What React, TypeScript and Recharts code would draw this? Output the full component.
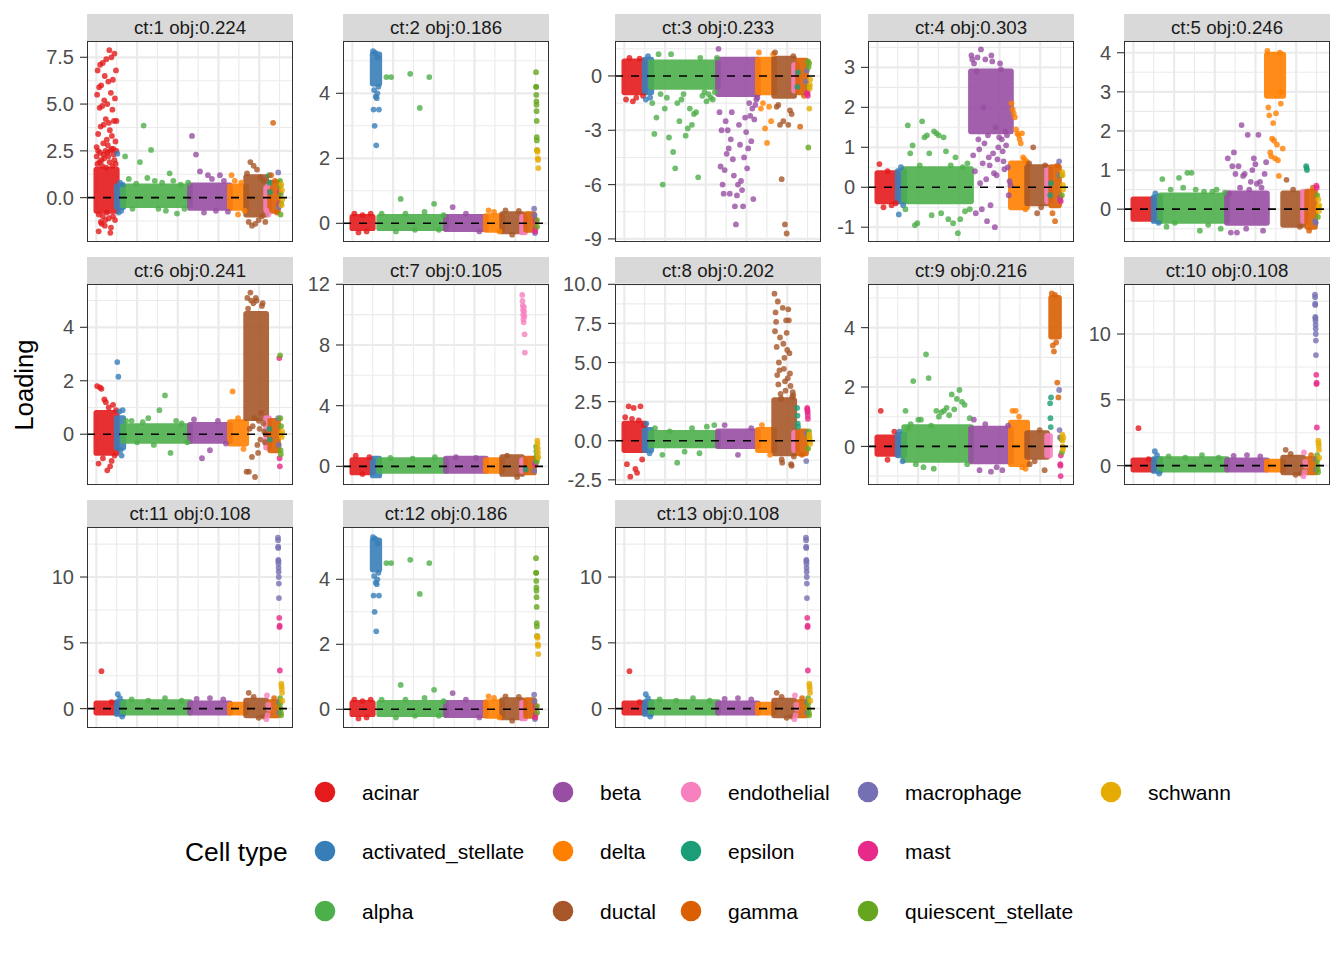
/** Faceted jitter plot of cell-type loadings for 13 components (ct:1..ct:13) */

import {
	CartesianGrid,
	ReferenceArea,
	ReferenceLine,
	Scatter,
	ScatterChart,
	XAxis,
	YAxis,
} from "recharts";

const FONT = '"Liberation Sans", Arial, Helvetica, sans-serif';

// cell types, in the order the cells are laid out along x
const cellTypes = [
	"acinar",
	"activated_stellate",
	"alpha",
	"beta",
	"delta",
	"ductal",
	"endothelial",
	"epsilon",
	"gamma",
	"macrophage",
	"mast",
	"quiescent_stellate",
	"schwann",
];
const cellColors = [
	"#E41A1C",
	"#377EB8",
	"#4DAF4A",
	"#984EA3",
	"#FF7F00",
	"#A65628",
	"#F781BF",
	"#1B9E77",
	"#D95F02",
	"#7570B3",
	"#E7298A",
	"#66A61E",
	"#E6AB02",
];
// approximate number of cells per type (sets the width of each block on x)
const cellCounts = [250, 80, 820, 490, 200, 245, 35, 15, 95, 15, 10, 15, 15];

// facet titles
const panelIds = [1, 2, 3, 4, 5, 6, 7, 8, 9, 10, 11, 12, 13];
const panelObj = [
	0.224, 0.186, 0.233, 0.303, 0.246, 0.241, 0.105, 0.202, 0.216, 0.108, 0.108,
	0.186, 0.108,
];

const ct1Domain = [-2.37, 8.37];
const ct2Domain = [-0.575, 5.61];
const ct3Domain = [-9.17, 1.93];
const ct4Domain = [-1.37, 3.66];
const ct5Domain = [-0.84, 4.3];
const ct6Domain = [-1.9, 5.62];
const ct7Domain = [-1.23, 12.02];
const ct8Domain = [-2.83, 10.02];
const ct9Domain = [-1.3, 5.47];
const ct10Domain = [-1.47, 13.8];

const ct1Ticks = [0, 2.5, 5, 7.5];
const ct2Ticks = [0, 2, 4];
const ct3Ticks = [-9, -6, -3, 0];
const ct4Ticks = [-1, 0, 1, 2, 3];
const ct5Ticks = [0, 1, 2, 3, 4];
const ct6Ticks = [0, 2, 4];
const ct7Ticks = [0, 4, 8, 12];
const ct8Ticks = [-2.5, 0, 2.5, 5, 7.5, 10];
const ct9Ticks = [0, 2, 4];
const ct10Ticks = [0, 5, 10];

const tickDigits = [1, 0, 0, 0, 0, 0, 0, 1, 0, 0, 0, 0, 0];

// dense cores: [cell type, low, high]
type Band = [number, number, number];
// scattered cells: [cell type, loadings read left to right]
type PointRun = [number, number[]];

const ct1Bands: Band[] = [
	[0, -0.7, 1.5],
	[1, -0.5, 0.6],
	[2, -0.4, 0.6],
	[3, -0.55, 0.65],
	[4, -0.55, 0.6],
	[5, -0.9, 1.1],
	[6, -0.6, 0.5],
	[8, -0.7, 0.8],
];
const ct1Points: PointRun[] = [
	[0, [2.7, 5.5, 6.8, 3.4, -1.8, 5.9, 4.8, 7.1, 3.8, 6.0, -1.4, 4.9, 7.2, 2.9, 3.9, 5.2, 6.5, -1.2, 4.2, 7.4, 3.1, 5.0, 2.8, 6.2, 4.0, 7.88, 3.6, -1.88, 5.6, 7.5, 3.3, 4.7, 6.3, 2.6, 4.1, 7.7, 5.3, 3.0, 6.8, 4.1]],
	[0, [2.2, 1.8, 2.5, -0.9, 1.9, 2.4, -1.3, 2.0, 1.7, -1.0, 2.3, 2.1, -1.5, 2.5, 1.6, -0.8, 2.4, 2.2, -1.1, 1.9, 2.5, -1.6, 2.6, 1.7, -1.0, 2.3, 2.0, -1.2, 1.8, 2.5]],
	[1, [2.35, -0.8, 0.8, -0.7, 0.7]],
	[2, [2.2, 1.0, -0.6, 0.75, 1.9, 3.85, 1.05, 2.55, 0.9, -0.6, 0.8, -0.7, 1.3, 0.9, -0.85, 0.7, -0.6, 0.8]],
	[3, [3.3, 2.3, 1.4, -0.8, 1.2, 1.0, -0.7, 1.2, 0.9, -0.75]],
	[4, [1.2, 0.9, -0.9, 0.8, -0.7]],
	[5, [1.3, -1.3, 1.9, -1.5, 1.7, -1.4, 1.5, -1.2, 1.1, -1.0, 0.9, -1.3]],
	[6, [-0.7, 0.6, -0.9]],
	[7, [1.2, 0.8, 0.3]],
	[8, [1.2, 4.0, 0.9, -0.8]],
	[9, [1.35, -0.5]],
	[10, [-0.3, 0.3]],
	[11, [0.9, 0.6, -0.9, 0.2, -0.3]],
	[12, [0.7, -0.4, 0.4, -0.1]],
];

const ct2Bands: Band[] = [
	[0, -0.15, 0.2],
	[1, 4.3, 5.2],
	[2, -0.15, 0.2],
	[3, -0.18, 0.2],
	[4, -0.2, 0.22],
	[5, -0.25, 0.28],
	[6, -0.28, 0.2],
	[8, -0.2, 0.28],
];
const ct2Points: PointRun[] = [
	[0, [0.3, -0.28, 0.25, -0.25, 0.3]],
	[1, [5.3, 3.5, 4.1, 3.0, 5.25, 3.9, 2.4, 3.85, 4.0, 5.1, 4.2, 3.5]],
	[2, [0.3, 4.5, 4.5, -0.25, 0.75, 0.3, 4.6, -0.2, 3.55, 0.35, 4.5, 0.6, -0.2, 0.25]],
	[3, [0.5, 0.3, -0.25]],
	[4, [0.4, 0.35, -0.25]],
	[5, [0.4, -0.35, 0.38]],
	[9, [0.45, 0.25, -0.3]],
	[10, [-0.25, 0.1, -0.15, 0.05]],
	[11, [4.65, 4.2, 4.2, 3.95, 3.75, 3.65, 3.45, 3.15, 2.65, 2.55, 2.25, 0.1, -0.1]],
	[12, [2.25, 2.2, 2.0, 1.95, 1.7]],
];

const ct3Bands: Band[] = [
	[0, -0.9, 0.8],
	[1, -0.9, 0.9],
	[2, -0.6, 0.75],
	[3, -1.0, 0.9],
	[4, -0.9, 0.9],
	[5, -1.1, 0.95],
	[6, -0.8, 0.6],
	[8, -0.9, 0.85],
];
const ct3Points: PointRun[] = [
	[0, [-1.3, 1.0, -1.4, -1.2, 0.95, -1.1]],
	[1, [-1.3, 1.1, -1.2]],
	[2, [-1.5, -3.2, -2.3, 1.2, -1.0, -6.0, -1.8, -1.2, -3.4, 1.2, -4.2, -5.1, -1.5, -2.5, -1.3, -1.0, -3.3, -2.9, -1.8, -2.7, -2.1, -2.0, -5.6, 1.0, -1.1, -0.9, -1.4, -1.0, -1.2, -1.3, -0.9, 1.0]],
	[3, [1.5, -2.0, -5.0, -3.0, -6.0, -6.5, -5.2, -2.5, -4.3, -3.0, -4.0, -6.5, -3.5, -2.0, -4.6, -5.5, -7.2, -8.2, -6.6, -6.0, -2.7, -3.8, -5.8, -6.3, -7.2, -4.5, -2.3, -3.1, -5.1, -4.0, -1.5, -2.2, -3.6, -1.8, -6.8, -2.4, -1.6, -1.3, -1.2]],
	[4, [1.3, -1.8, -1.5, -2.9, -3.7, -1.7, -2.5, 1.2]],
	[5, [1.3, -1.7, -1.6, -2.7, -5.7, -2.5, -8.2, -8.7, -2.7, -1.9, -2.1, 1.1]],
	[7, [-0.6, 0.2]],
	[8, [-2.8, -1.1]],
	[9, [-0.3, 0.3]],
	[10, [-1.0, -0.9, -1.1]],
	[11, [0.8, -3.95, 0.5, -0.6, 0.7]],
	[12, [-1.8, -0.7, -0.5, -0.2]],
];

const ct4Bands: Band[] = [
	[0, -0.35, 0.35],
	[1, -0.35, 0.4],
	[2, -0.35, 0.45],
	[3, 1.4, 2.9],
	[4, -0.5, 0.6],
	[5, -0.4, 0.5],
	[6, -0.35, 0.45],
	[8, -0.45, 0.5],
];
const ct4Points: PointRun[] = [
	[0, [0.58, -0.5, 0.4, -0.45, -0.4]],
	[1, [-0.68, 0.5, -0.45]],
	[2, [-0.55, 1.55, 0.85, 1.05, -0.95, -0.9, 0.55, 1.65, 1.25, 1.3, 0.85, -0.7, 1.4, 1.35, 1.3, -0.65, 1.25, 0.9, -0.8, 0.55, -0.9, 0.75, -1.15, -0.8, 0.5, -0.6, 0.6, -0.55]],
	[3, [3.3, 3.2, 0.8, 3.1, 0.4, -0.65, 2.9, 3.25, 1.2, 0.95, 0.1, 3.45, -0.55, 0.6, 2.0, 1.1, 3.2, 0.2, -0.85, 1.3, 0.75, 0.55, -0.45, 3.3, 3.15, 0.85, 0.35, -1.0, 1.5, 0.3, 0.7, 1.0, 1.25, 3.1, 2.95, 1.2, 0.9, 0.65, 0.45, 1.4, 1.05, 1.3, 0.5, -0.2, 0.15, 0.05]],
	[4, [2.1, 1.95, 1.85, 1.75, 1.45, 1.35, 1.3, 1.2, 1.1, 1.35, 0.75, 0.7, -0.55, 0.65]],
	[5, [0.6, 1.0, -0.65, -0.5, 0.55]],
	[7, [-0.2, 0.1]],
	[8, [-0.65, -0.85, 0.55]],
	[9, [0.65, 0.3, -0.3]],
	[10, [-0.25, -0.35]],
	[11, [0.3, -0.2]],
	[12, [0.38, 0.3, 0.05, -0.05]],
];

const ct5Bands: Band[] = [
	[0, -0.25, 0.25],
	[1, -0.3, 0.3],
	[2, -0.3, 0.35],
	[3, -0.35, 0.4],
	[4, 2.9, 3.95],
	[5, -0.4, 0.4],
	[6, -0.3, 0.45],
	[8, -0.45, 0.45],
];
const ct5Points: PointRun[] = [
	[1, [0.4, -0.35]],
	[2, [0.77, -0.45, 0.5, -0.35, 0.8, 0.55, 0.93, 0.93, 0.5, -0.55, 0.45, -0.4, 0.45, 0.5, -0.5, 0.42]],
	[3, [1.3, 0.4, -0.6, 1.1, 1.45, 0.9, -0.6, 1.1, 0.55, 2.15, 0.85, 0.9, -0.5, 1.9, 0.5, 0.7, 1.0, 1.3, 1.15, 0.65, 1.9, 0.7, 0.55, -0.55, 0.9, 1.2]],
	[4, [4.05, 2.6, 2.4, 1.45, 1.35, 1.8, 2.2, 1.75, 1.3, 2.45, 1.65, 1.25, 0.85, 4.0, 2.7, 3.0, 1.55]],
	[5, [0.75, 0.5, -0.45]],
	[7, [1.1, 1.05, 1.0]],
	[8, [-0.55, 0.55]],
	[9, [-0.3, -0.35]],
	[10, [0.6, 0.55]],
	[11, [0.35, -0.2]],
	[12, [0.25, 0.05, -0.05, 0.1]],
];

const ct6Bands: Band[] = [
	[0, -0.7, 0.8],
	[1, -0.5, 0.6],
	[2, -0.25, 0.3],
	[3, -0.25, 0.35],
	[4, -0.35, 0.45],
	[5, 0.6, 4.5],
	[6, -0.5, 0.6],
	[8, -0.6, 0.5],
];
const ct6Points: PointRun[] = [
	[0, [1.8, -1.1, 1.75, 1.7, -0.9, 1.3, 1.2, -1.35, 1.0, -1.2, -1.0, 1.1, -0.8, 0.9]],
	[1, [2.7, 2.15, 0.85, -0.6, -0.8, 0.9]],
	[2, [0.5, 0.5, -0.3, 0.45, 0.6, -0.4, 0.9, 1.45, -0.7, 0.5, 0.4, -0.3]],
	[3, [0.55, -0.9, -0.6, 0.5, -0.35]],
	[4, [1.6, 0.6, -0.55]],
	[5, [-1.4, 5.1, 4.7, -1.4, 0.2, 5.3, 5.0, -0.85, 0.3, 4.9, 0.6, -1.6, 5.1, 5.0, -0.4, -0.7, 0.5, 0.2, -0.2, 0.8, 4.8, 4.9, 0.4, 0.1, -0.3, 0.0]],
	[7, [0.2, -0.2]],
	[9, [0.6, -0.4]],
	[10, [2.85, -0.9, -1.2]],
	[11, [2.95, 0.6, -0.6, -0.75, 0.3]],
	[12, [0.0, -0.1, 0.1]],
];

const ct7Bands: Band[] = [
	[0, -0.4, 0.4],
	[1, -0.6, 0.5],
	[2, -0.3, 0.4],
	[3, -0.3, 0.5],
	[4, -0.3, 0.4],
	[5, -0.5, 0.6],
	[6, -0.3, 0.4],
	[8, -0.4, 0.5],
];
const ct7Points: PointRun[] = [
	[0, [0.7, -0.5, 0.6]],
	[2, [0.55, 0.5, 0.6]],
	[3, [0.6, 0.55]],
	[5, [0.7, -0.7]],
	[6, [11.3, 10.9, 10.6, 10.3, 10.0, 9.7, 9.5, 10.5, 10.2, 9.9, 8.7, 7.5]],
	[7, [-0.2]],
	[9, [-0.3, 0.2]],
	[10, [0.1]],
	[11, [1.3, 1.0, 0.7, 0.3, 0.5]],
	[12, [1.7, 1.5, 1.2, 0.9, 0.6]],
];

const ct8Bands: Band[] = [
	[0, -0.6, 1.1],
	[1, -0.6, 0.7],
	[2, -0.3, 0.5],
	[3, -0.35, 0.6],
	[4, -0.6, 0.7],
	[5, -0.8, 2.6],
	[6, -0.6, 0.5],
	[8, -0.8, 0.6],
];
const ct8Points: PointRun[] = [
	[0, [1.5, -1.5, 2.2, -2.3, 1.4, 2.1, -1.8, -2.05, 1.3, 2.2, -1.2, 1.0]],
	[1, [1.1, -0.8]],
	[2, [0.8, -0.9, 0.6, -1.4, -0.7, 0.8, -0.8, 0.9, 1.0]],
	[3, [1.0, -0.9, 0.8]],
	[4, [1.0, -0.9]],
	[5, [9.4, 7.0, 8.2, 7.6, 6.0, 4.2, 8.9, 3.6, 5.0, 4.5, 6.6, 3.0, 2.7, -1.2, -1.4, 8.5, 6.2, 4.6, 5.3, 3.8, 3.2, 7.7, 6.9, 5.8, 4.0, 8.4, 7.7, 5.6, 4.3, 3.5, -1.5, -1.6, 2.8, 3.1, 2.9, -1.0]],
	[7, [2.1, 1.6, 1.1, 0.9]],
	[8, [-0.9]],
	[9, [-1.3, 0.5]],
	[10, [2.1, 2.0, 1.9, 1.8, 1.6, 1.4]],
	[11, [-0.5, 0.3, 0.6]],
	[12, [0.4, 0.2, 0.0, -0.2]],
];

const ct9Bands: Band[] = [
	[0, -0.25, 0.3],
	[1, -0.3, 0.4],
	[2, -0.45, 0.65],
	[3, -0.5, 0.6],
	[4, -0.6, 0.8],
	[5, -0.35, 0.45],
	[6, -0.3, 0.35],
	[8, 3.7, 5.0],
];
const ct9Points: PointRun[] = [
	[0, [1.2, -0.45, 0.5]],
	[1, [0.5, -0.5]],
	[2, [1.2, 0.6, 0.75, 2.2, -0.6, 0.9, 0.9, -0.7, 3.1, 2.3, 0.7, -0.75, 1.2, 1.0, 1.15, 1.2, 1.3, 1.05, 1.75, 1.25, 1.6, 1.9, 1.5, 1.4, -0.6, 0.95]],
	[3, [0.9, -0.8, 0.75, -0.85, -0.7, -0.8, 0.7]],
	[4, [1.2, 1.2, 1.0, -0.7, -0.75]],
	[5, [-0.6, -0.5, 0.55, -0.8]],
	[7, [1.45, 0.95, 0.65, 1.65]],
	[8, [5.15, 3.4, 3.2, 5.1, 3.5, 2.15, 1.65]],
	[9, [1.9, 0.55, 0.3]],
	[10, [-0.6, -0.65, -1.0, -0.3]],
	[11, [0.25, -0.2]],
	[12, [0.4, 0.2, 0.0, -0.1, 0.3]],
];

const ct10Bands: Band[] = [
	[0, -0.3, 0.4],
	[1, -0.4, 0.5],
	[2, -0.3, 0.5],
	[3, -0.3, 0.4],
	[4, -0.3, 0.3],
	[5, -0.5, 0.6],
	[8, -0.5, 0.5],
];
const ct10Points: PointRun[] = [
	[0, [2.85, 0.5]],
	[1, [1.1, 0.8, -0.6]],
	[2, [0.7, 0.6, 0.8, 0.6]],
	[3, [0.75, 0.8, 0.7]],
	[5, [1.2, 0.9, -0.7, -0.6]],
	[6, [-0.8, 1.0, -0.5, 0.3, 0.0]],
	[8, [0.8]],
	[9, [13.0, 12.8, 12.3, 12.2, 11.3, 11.2, 11.0, 10.7, 10.4, 10.0, 9.5, 8.4, 0.5, -0.3]],
	[10, [6.9, 6.2, 6.3, 2.9]],
	[11, [0.8, 0.4, 0.0, -0.3, -0.5]],
	[12, [1.9, 1.7, 1.5, 1.2, 0.6]],
];

// ct:11 and ct:13 repeat ct:10, ct:12 repeats ct:2
const panelDomains = [ct1Domain, ct2Domain, ct3Domain, ct4Domain, ct5Domain, ct6Domain, ct7Domain, ct8Domain, ct9Domain, ct10Domain, ct10Domain, ct2Domain, ct10Domain];
const panelTicks = [ct1Ticks, ct2Ticks, ct3Ticks, ct4Ticks, ct5Ticks, ct6Ticks, ct7Ticks, ct8Ticks, ct9Ticks, ct10Ticks, ct10Ticks, ct2Ticks, ct10Ticks];
const panelBands = [ct1Bands, ct2Bands, ct3Bands, ct4Bands, ct5Bands, ct6Bands, ct7Bands, ct8Bands, ct9Bands, ct10Bands, ct10Bands, ct2Bands, ct10Bands];
const panelPoints = [ct1Points, ct2Points, ct3Points, ct4Points, ct5Points, ct6Points, ct7Points, ct8Points, ct9Points, ct10Points, ct10Points, ct2Points, ct10Points];

// layout
const COL_LEFT = [87, 343, 615, 868, 1124];
const ROW_TOP = [41, 284, 527];
const PLOT_W = 206;
const PLOT_H = 201;
const STRIP_H = 27;
const AXIS_W = 62;
const PAD = 14;
const DOT_R = 2.9;
const X_DOMAIN = [-115, 2415];
const X_MAJOR = [0, 500, 1000, 1500, 2000];
const X_MINOR = [250, 750, 1250, 1750, 2250];

const typeStart = cellCounts.map((_, i) =>
	cellCounts.slice(0, i).reduce((a, b) => a + b, 0),
);

function minorTicks(ticks: number[], domain: number[]): number[] {
	const step = ticks[1] - ticks[0];
	const out: number[] = [];
	for (let i = -1; i < ticks.length; i++) {
		const v = ticks[0] + step * (i + 0.5);
		if (v > domain[0] && v < domain[1]) out.push(v);
	}
	return out;
}

// a dense block of dots: the area plus one dot radius all round
function BandShape(props: any) {
	const { x, y, width, height, fill } = props;
	return (
		<rect
			x={x - DOT_R}
			y={y - DOT_R}
			width={width + 2 * DOT_R}
			height={height + 2 * DOT_R}
			rx={DOT_R}
			fill={fill}
			fillOpacity={0.9}
		/>
	);
}

function Panel({ index }: { index: number }) {
	const col = index % 5;
	const row = Math.floor(index / 5);
	const left = COL_LEFT[col];
	const top = ROW_TOP[row];
	const domain = panelDomains[index];
	const ticks = panelTicks[index];
	const digits = tickDigits[index];

	const seriesData = cellTypes.map((_, t) => {
		const out: { x: number; y: number }[] = [];
		for (const [type, ys] of panelPoints[index]) {
			if (type !== t) continue;
			ys.forEach((y, i) => {
				out.push({
					x: typeStart[t] + ((i + 0.5) / ys.length) * cellCounts[t],
					y,
				});
			});
		}
		return out;
	});

	return (
		<>
			<div
				style={{
					position: "absolute",
					left,
					top: top - STRIP_H,
					width: PLOT_W,
					height: STRIP_H,
					background: "#D9D9D9",
					color: "#1A1A1A",
					fontSize: 18.7,
					lineHeight: `${STRIP_H}px`,
					textAlign: "center",
					fontFamily: FONT,
				}}
			>
				{`ct:${panelIds[index]} obj:${panelObj[index].toFixed(3)}`}
			</div>
			<div style={{ position: "absolute", left: left - AXIS_W, top: top - PAD }}>
				<ScatterChart
					width={AXIS_W + PLOT_W}
					height={PLOT_H + 2 * PAD}
					margin={{ top: PAD, right: 0, bottom: PAD, left: 0 }}
				>
					<XAxis
						type="number"
						dataKey="x"
						domain={X_DOMAIN}
						allowDataOverflow
						hide
					/>
					<YAxis
						type="number"
						dataKey="y"
						domain={domain}
						ticks={ticks}
						interval={0}
						allowDataOverflow
						width={AXIS_W}
						axisLine={false}
						tickSize={7}
						tickMargin={6}
						tickLine={{ stroke: "#333333", strokeWidth: 1.1 }}
						tick={{ fontSize: 20, fill: "#4D4D4D", fontFamily: FONT }}
						tickFormatter={(v: number) => v.toFixed(digits)}
					/>
					<CartesianGrid
						horizontalValues={minorTicks(ticks, domain)}
						verticalValues={X_MINOR}
						stroke="#EBEBEB"
						strokeWidth={1.1}
					/>
					<CartesianGrid
						horizontalValues={ticks}
						verticalValues={X_MAJOR}
						stroke="#EBEBEB"
						strokeWidth={2.2}
					/>
					{panelBands[index].map(([t, lo, hi], i) => (
						<ReferenceArea
							key={`band-${i}`}
							x1={typeStart[t]}
							x2={typeStart[t] + cellCounts[t]}
							y1={lo}
							y2={hi}
							fill={cellColors[t]}
							stroke="none"
							ifOverflow="visible"
							shape={BandShape}
							zIndex={300}
						/>
					))}
					{cellTypes.map((name, t) => (
						<Scatter
							key={name}
							name={name}
							data={seriesData[t]}
							fill={cellColors[t]}
							isAnimationActive={false}
							shape={(p: any) => (
								<circle
									cx={p.cx}
									cy={p.cy}
									r={DOT_R}
									fill={cellColors[t]}
									fillOpacity={0.8}
								/>
							)}
						/>
					))}
					<ReferenceLine
						y={0}
						stroke="#000000"
						strokeWidth={1.6}
						strokeDasharray="8 8"
						zIndex={1000}
					/>
				</ScatterChart>
			</div>
			<div
				style={{
					position: "absolute",
					left,
					top,
					width: PLOT_W,
					height: PLOT_H,
					border: "1.1px solid #333333",
					boxSizing: "border-box",
					pointerEvents: "none",
				}}
			/>
		</>
	);
}

const LEGEND_X = [325, 563, 691, 868, 1111];
const LEGEND_Y = [792, 851, 911];

function Legend() {
	return (
		<svg
			width={1344}
			height={960}
			style={{ position: "absolute", left: 0, top: 0 }}
			fontFamily={FONT}
		>
			<text
				x={24}
				y={385}
				fontSize={25.5}
				fill="#000"
				textAnchor="middle"
				dominantBaseline="central"
				transform="rotate(-90 24 385)"
			>
				Loading
			</text>
			<text x={185} y={852} fontSize={26.4} fill="#000" dominantBaseline="central">
				Cell type
			</text>
			{cellTypes.map((name, i) => {
				const cx = LEGEND_X[Math.floor(i / 3)];
				const cy = LEGEND_Y[i % 3];
				return (
					<g key={name}>
						<circle cx={cx} cy={cy} r={10.3} fill={cellColors[i]} />
						<text
							x={cx + 37}
							y={cy}
							fontSize={21}
							fill="#000"
							dominantBaseline="central"
						>
							{name}
						</text>
					</g>
				);
			})}
		</svg>
	);
}

export default function App() {
	return (
		<div
			style={{
				position: "absolute",
				left: 0,
				top: 0,
				width: 1344,
				height: 960,
				background: "#ffffff",
				overflow: "hidden",
			}}
		>
			<Legend />
			{panelIds.map((_, i) => (
				<Panel key={i} index={i} />
			))}
		</div>
	);
}
